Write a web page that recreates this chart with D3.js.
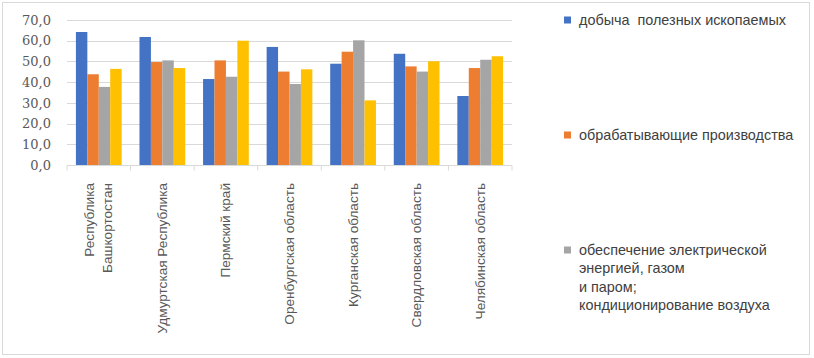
<!DOCTYPE html>
<html><head><meta charset="utf-8">
<script src="https://cdn.jsdelivr.net/npm/d3@7"></script>
<style>html,body{margin:0;padding:0;background:#fff;}svg{display:block;}</style>
</head><body>
<svg id="c" width="814" height="358"></svg>
<script>
const categories = [
  ["Республика", "Башкортостан"],
  ["Удмуртская Республика"],
  ["Пермский край"],
  ["Оренбургская область"],
  ["Курганская область"],
  ["Свердловская область"],
  ["Челябинская область"]
];
const seriesNames = [
  ["добыча  полезных ископаемых"],
  ["обрабатывающие производства"],
  ["обеспечение электрической", "энергией, газом", "и паром;", "кондиционирование воздуха"],
  ["водоснабжение; водоотведение"]
];
const mining        = [64.2, 61.8, 41.5, 57.0, 48.9, 53.7, 33.3];
const manufacturing = [43.8, 49.7, 50.5, 45.1, 54.7, 47.6, 46.8];
const energy        = [37.7, 50.5, 42.6, 39.1, 60.2, 45.1, 50.8];
const water         = [46.4, 46.8, 60.0, 46.2, 31.2, 50.1, 52.5];
const yTicks = [0, 10, 20, 30, 40, 50, 60, 70];

const values = [mining, manufacturing, energy, water];
const colors = ["#4472c4", "#ed7d31", "#a5a5a5", "#ffc000"];
const legendShown = 3;

const svg = d3.select("#c");
svg.append("rect").attr("x", 2.5).attr("y", 2.5).attr("width", 807).attr("height", 352)
  .attr("fill", "#fff").attr("stroke", "#d9d9d9");

const pL = 67, pR = 512, pT = 20, pB = 165;
const catIdx = d3.range(categories.length);
const x0 = d3.scaleBand().domain(catIdx).range([pL, pR]).padding(0);
const x1 = d3.scaleBand().domain(d3.range(values.length)).range([0, x0.bandwidth()])
  .paddingInner(0).paddingOuter(0.78);
const y = d3.scaleLinear().domain([0, 70]).range([pB, pT]);

// gridlines
svg.append("g").selectAll("line").data(yTicks.filter(d => d > 0)).join("line")
  .attr("x1", pL).attr("x2", pR)
  .attr("y1", d => Math.round(y(d)) + 0.5).attr("y2", d => Math.round(y(d)) + 0.5)
  .attr("stroke", "#d9d9d9");

// y axis labels
const yAxis = d3.axisLeft(y).tickValues(yTicks).tickSize(0).tickPadding(0)
  .tickFormat(d => d3.format(".1f")(d).replace(".", ","));
const ya = svg.append("g").attr("transform", `translate(${pL - 16},0)`).call(yAxis);
ya.attr("font-family", null).attr("font-size", null);
ya.select(".domain").remove();
ya.selectAll("text").style("font-family", "'DejaVu Serif', serif").style("font-size", "13px")
  .attr("fill", "#595959");

// bars
const gs = svg.append("g").selectAll("g").data(catIdx).join("g")
  .attr("transform", i => `translate(${x0(i)},0)`);
gs.selectAll("rect").data(i => values.map((s, k) => ({k, v: s[i]}))).join("rect")
  .attr("x", d => x1(d.k)).attr("width", x1.bandwidth())
  .attr("y", d => y(d.v)).attr("height", d => y(0) - y(d.v))
  .attr("fill", d => colors[d.k]);

// x axis
const xa = svg.append("g").attr("transform", `translate(0,${Math.round(y(0)) + 0.5})`);
xa.append("line").attr("x1", pL).attr("x2", pR).attr("stroke", "#d9d9d9");
xa.selectAll("line.tk").data(d3.range(categories.length + 1)).join("line").attr("class", "tk")
  .attr("x1", i => pL + i * x0.step()).attr("x2", i => pL + i * x0.step())
  .attr("y1", 0).attr("y2", 5).attr("stroke", "#d9d9d9");

// category labels
const lh = 18;
catIdx.forEach(i => {
  const lines = categories[i];
  const cx = x0(i) + x0.bandwidth() / 2;
  lines.forEach((t, j) => {
    const off = (j - (lines.length - 1) / 2) * lh;
    svg.append("text")
      .attr("transform", `translate(${cx + off + 4.5},183) rotate(-90)`)
      .attr("text-anchor", "end")
      .attr("font-family", "'Liberation Sans', Arial, sans-serif")
      .attr("font-size", 13.6).attr("fill", "#595959")
      .text(t);
  });
});

// legend
const legY = [20, 135, 250];
for (let k = 0; k < legendShown; k++) {
  const g = svg.append("g").attr("transform", `translate(564,${legY[k]})`);
  g.append("rect").attr("x", 0).attr("y", -3.5).attr("width", 7).attr("height", 7).attr("fill", colors[k]);
  seriesNames[k].forEach((t, j) => {
    g.append("text").attr("x", 15).attr("y", j * 18.3 + 5)
      .attr("font-family", "'Liberation Sans', Arial, sans-serif")
      .attr("font-size", 14.4).attr("fill", "#404040")
      .attr("xml:space", "preserve")
      .text(t);
  });
}
</script>
</body></html>
